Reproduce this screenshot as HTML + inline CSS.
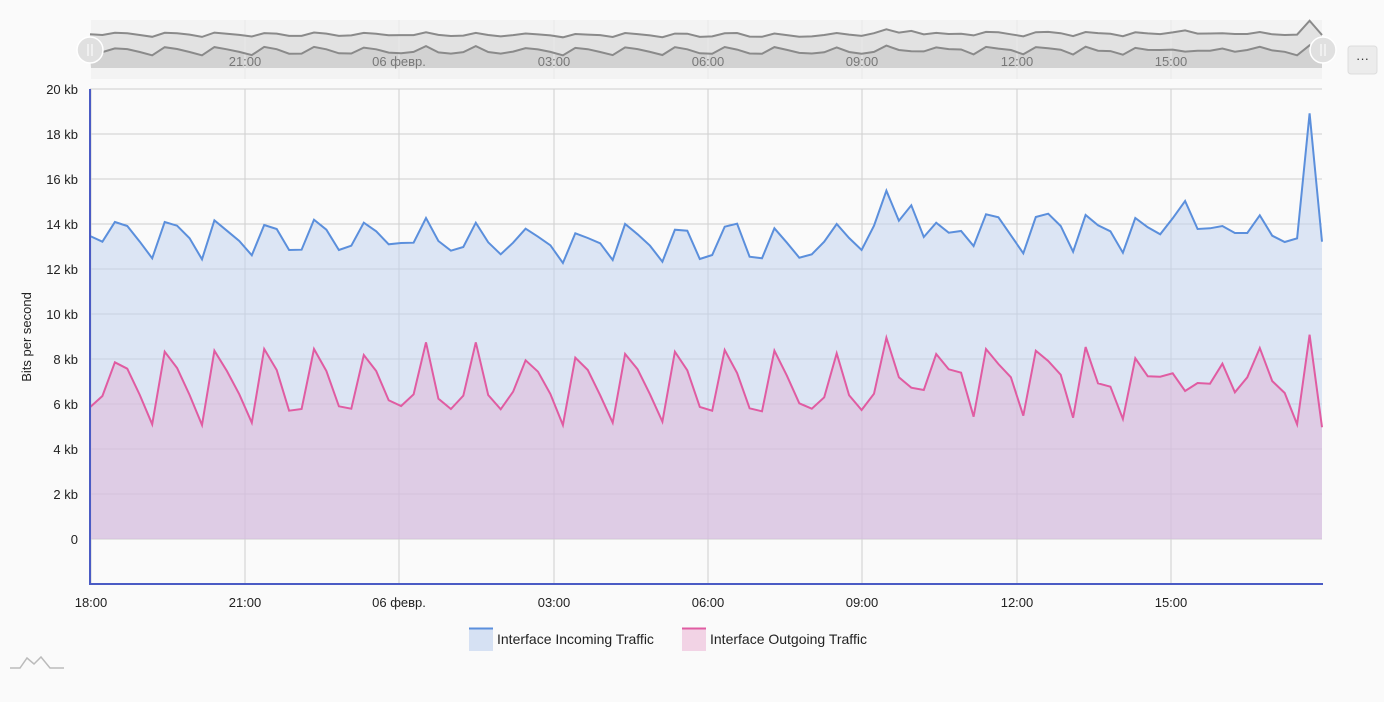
<!DOCTYPE html>
<html><head><meta charset="utf-8"><style>
html,body{margin:0;padding:0;background:#fafafa;}
body{width:1384px;height:697px;overflow:hidden;font-family:"Liberation Sans","DejaVu Sans",sans-serif;}
</style></head><body>
<svg id="s" width="1384" height="697" xmlns="http://www.w3.org/2000/svg" font-family="Liberation Sans, DejaVu Sans, sans-serif"></svg>
<script>
var inc=[236,241.7,222,226,241.7,258.3,222,225.7,238.3,259.3,220.3,230.7,241,255.3,225,229,250,249.7,219.7,229.7,250,245.7,222.7,231.3,244.3,243,242.7,218,241,250.7,247,222.7,242.3,254.3,
242.7,228.7,236.7,245.3,263,233.3,238,243.3,260,224,234.3,245.7,261.7,229.7,230.7,259,255,226.7,223.7,256.7,258.3,228.3,242.7,257.7,254.3,241.7,224,238,250,225.7,190.7,220.7,205.3,
237,222.7,232.7,231,246,214.3,217.3,235.3,253.3,217,213.7,226,251.7,215,225.3,231.3,252.7,218,227.3,234.3,218.3,201,229,228.3,226,233,233,215.3,235.7,242,238.3,113.3,241.7];
var out=[407.3,396,362.3,368.7,395,424.3,351.7,368,395,425,350.7,371,394.3,422.7,349,370,410.7,409,349,371,406.3,408.7,355,371,400.3,406,394.3,342.3,398.7,409,395.7,342.3,395,409.3,
391.7,360.3,371.7,394,425,357.7,370,395.3,422.7,354,369.3,394.3,421.7,351.7,370.3,407,410.7,350,373,408.3,411.3,350.7,375.7,403.3,408.7,397.3,353.3,395.3,410,393.7,337.7,377.3,387.7,
390,354,369.3,372.7,416.7,349,364,377.3,415.7,350.7,361,374.7,417.7,347,383.3,386.7,419,358.3,376.3,376.7,373.3,391,383,383.7,363.7,392.3,377.3,348,381,393,424.3,334.7,427.3];
var h='';
function X(i){return 90+i*(1232/99);}
h+='<rect x="91" y="20" width="1231" height="59" fill="#f3f3f3"/>';
function nav(a){return a.map(function(p,i){return X(i).toFixed(1)+','+(68-(539-p)/9).toFixed(1);}).join(' ');}
h+='<polygon points="91,68 '+nav(inc)+' 1322,68" fill="#e2e2e2"/>';
h+='<polygon points="91,68 '+nav(out)+' 1322,68" fill="#d2d2d2"/>';
var ticks=[[91,'18:00'],[245,'21:00'],[399,'06 февр.'],[554,'03:00'],[708,'06:00'],[862,'09:00'],[1017,'12:00'],[1171,'15:00']];
ticks.forEach(function(t){if(t[0]>100){h+='<line x1="'+t[0]+'" y1="20" x2="'+t[0]+'" y2="79" stroke="#e8e8e8"/>';h+='<text x="'+t[0]+'" y="66" font-size="13" fill="#777" text-anchor="middle">'+t[1]+'</text>';}});
h+='<polyline points="'+nav(inc)+'" fill="none" stroke="#8a8a8a" stroke-width="2"/>';
h+='<polyline points="'+nav(out)+'" fill="none" stroke="#8a8a8a" stroke-width="2"/>';
[90,1323].forEach(function(cx){h+='<circle cx="'+cx+'" cy="50" r="13" fill="#e0e0e0" stroke="#fff" stroke-width="1.5"/><line x1="'+(cx-2)+'" y1="44" x2="'+(cx-2)+'" y2="56" stroke="#fff"/><line x1="'+(cx+2)+'" y1="44" x2="'+(cx+2)+'" y2="56" stroke="#fff"/>';});
h+='<rect x="1348" y="46" width="29" height="28" rx="3" fill="#ececec" stroke="#ddd"/><text x="1362.5" y="63" font-size="13" text-anchor="middle" fill="#333">···</text>';
for(var k=0;k<=10;k++){var y=539-k*45;h+='<line x1="90" y1="'+y+'" x2="1322" y2="'+y+'" stroke="#cfcfcf"/>';h+='<text x="78" y="'+(y+5)+'" font-size="13" text-anchor="end" fill="#222">'+(k==0?'0':(k*2)+' kb')+'</text>';}
ticks.forEach(function(t){h+='<line x1="'+t[0]+'" y1="89" x2="'+t[0]+'" y2="584" stroke="#cfcfcf"/>';h+='<text x="'+t[0]+'" y="607" font-size="13" text-anchor="middle" fill="#222">'+t[1]+'</text>';});
function pts(a){return a.map(function(p,i){return X(i).toFixed(1)+','+p;}).join(' ');}
h+='<polygon points="90,539 '+pts(inc)+' 1322,539" fill="#c3d3ee" fill-opacity="0.55"/>';
h+='<polygon points="90,539 '+pts(out)+' 1322,539" fill="#e0b3d6" fill-opacity="0.5"/>';
h+='<polyline points="'+pts(inc)+'" fill="none" stroke="#5b8fdc" stroke-width="2"/>';
h+='<polyline points="'+pts(out)+'" fill="none" stroke="#e05ca2" stroke-width="2"/>';
h+='<line x1="90" y1="89" x2="90" y2="585" stroke="#4a5bc4" stroke-width="2"/><line x1="89" y1="584" x2="1323" y2="584" stroke="#4a5bc4" stroke-width="2"/>';
h+='<text transform="translate(31,337) rotate(-90)" font-size="13" text-anchor="middle" fill="#222">Bits per second</text>';
h+='<rect x="469" y="628" width="24" height="23" fill="#d6e1f3"/><line x1="469" y1="628.5" x2="493" y2="628.5" stroke="#5b8fdc" stroke-width="2"/>';
h+='<text x="497" y="644" font-size="14" fill="#222">Interface Incoming Traffic</text>';
h+='<rect x="682" y="628" width="24" height="23" fill="#f2d3e5"/><line x1="682" y1="628.5" x2="706" y2="628.5" stroke="#e05ca2" stroke-width="2"/>';
h+='<text x="710" y="644" font-size="14" fill="#222">Interface Outgoing Traffic</text>';
h+='<polyline points="10,668 20,668 27,658 34,664 41,657 50,668 64,668" fill="none" stroke="#bbb" stroke-width="1.5"/>';
document.getElementById('s').innerHTML=h;
</script>
</body></html>
